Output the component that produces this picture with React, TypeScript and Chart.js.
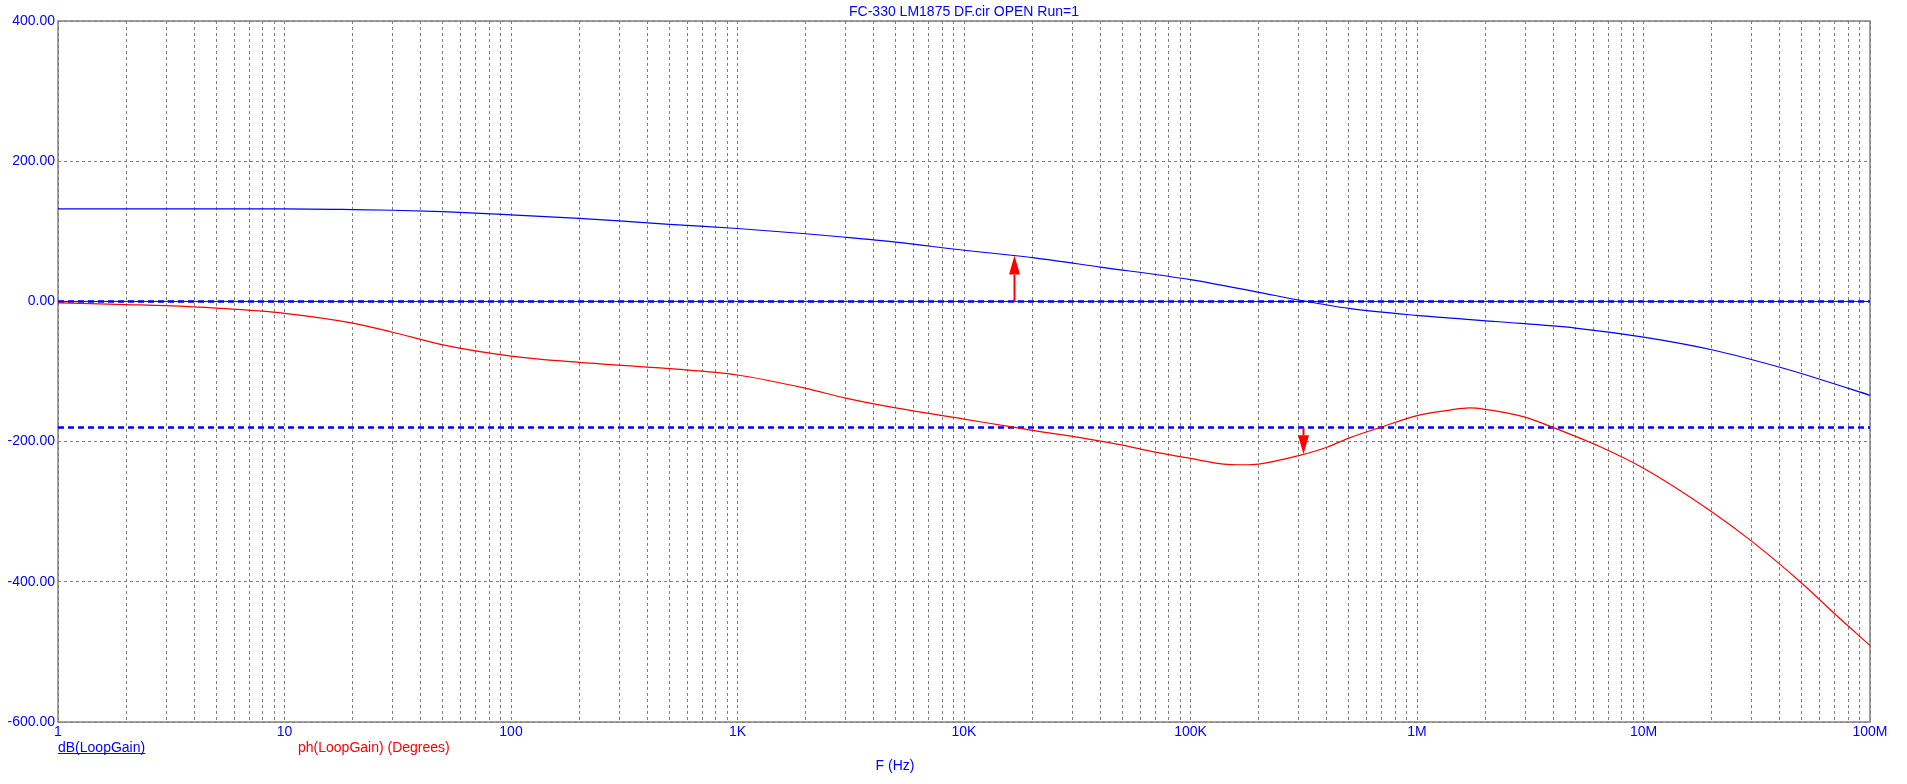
import React, { useEffect, useRef } from "react";
import { Chart, registerables } from "chart.js";

Chart.register(...registerables);

const TITLE = "FC-330 LM1875 DF.cir OPEN Run=1";
const X_TITLE = "F (Hz)";
const SERIES_GAIN_LABEL = "dB(LoopGain)";
const SERIES_PHASE_LABEL = "ph(LoopGain) (Degrees)";

const GAIN_FREQ_HZ = [
  1, 10, 20, 30, 50, 100, 200, 300, 500, 1e3, 2e3, 3e3, 5e3, 1e4, 1.66e4, 2e4, 4e4,
  1e5, 2e5, 3e5, 5e5, 1e6, 2.3e6, 5e6, 1e7, 2e7, 4e7, 6e7, 1e8,
];
const GAIN_DB = [
  132, 132, 131, 130, 128, 123.5, 118.5, 115, 110, 104, 96.5, 91.5, 84.5, 73, 65.5, 62.5, 49,
  31, 13, 2, -10, -20, -29, -38, -51, -69, -94, -111, -134,
];

const PHASE_FREQ_HZ = [
  1, 2, 3, 5, 10, 20, 30, 50, 100, 200, 300, 500, 1e3, 2e3, 3e3, 5e3, 1e4, 1.7e4, 2e4, 3.5e4, 5e4, 7e4,
  1e5, 1.4e5, 1.7e5, 2e5, 3e5, 4e5, 5e5, 7e5, 1e6, 1.4e6, 1.7e6, 2e6, 3e6, 4e6, 6.4e6, 1e7, 2e7, 3e7, 5e7, 7e7, 1e8,
];
const PHASE_DEG = [
  -2, -4.5, -6, -9.5, -17, -31, -44, -62, -78, -87, -91, -96, -105, -124, -138, -152, -168, -180, -184, -196, -205, -215,
  -224, -232, -233, -232, -220, -208, -195, -179, -163, -155, -152, -154, -165, -180, -207, -238, -300, -342, -402, -446, -491,
];

const Y_MIN = -600;
const Y_MAX = 400;
const Y_STEP = 200;
const X_MIN = 1;
const X_MAX = 1e8;
const X_DECADE_LABELS = ["1", "10", "100", "1K", "10K", "100K", "1M", "10M", "100M"];
const REF_LEVELS = [0, -180];
const MARKERS = [
  { freq: 1.66e4, from: 0, to: 65.5 },
  { freq: 3.14e5, from: -180, to: -218 },
];

const FONT = '14px "Liberation Sans", Arial, sans-serif';
const BLUE = "#0000ff";
const RED = "#ff0000";
const GRAY = "#808080";

export default function App() {
  const ref = useRef<HTMLCanvasElement | null>(null);

  useEffect(() => {
    const canvas = ref.current;
    if (!canvas) return;

    const gridTicks: number[] = [];
    for (let d = 0; d < X_DECADE_LABELS.length - 1; d++) {
      for (let m = 1; m <= 9; m++) gridTicks.push(m * Math.pow(10, d));
    }
    gridTicks.push(X_MAX);

    const gain = GAIN_FREQ_HZ.map((f, i) => ({ x: f, y: GAIN_DB[i] }));
    const phase = PHASE_FREQ_HZ.map((f, i) => ({ x: f, y: PHASE_DEG[i] }));

    const refSets: any[] = [];
    REF_LEVELS.forEach((lv, i) => {
      if (i === 0) {
        refSets.push({
          data: [{ x: X_MIN, y: lv }, { x: X_MAX, y: lv }],
          borderColor: BLUE,
          borderWidth: 1,
          pointRadius: 0,
        });
      }
      refSets.push({
        data: [{ x: X_MIN, y: lv }, { x: X_MAX, y: lv }],
        borderColor: BLUE,
        borderWidth: 2.5,
        borderDash: [6, 4],
        pointRadius: 0,
      });
    });

    const overlay = {
      id: "overlay",
      beforeDatasetsDraw(chart: any) {
        const { ctx, chartArea } = chart;
        ctx.save();
        ctx.strokeStyle = GRAY;
        ctx.lineWidth = 1.5;
        ctx.setLineDash([]);
        ctx.strokeRect(chartArea.left, chartArea.top, chartArea.right - chartArea.left, chartArea.bottom - chartArea.top);
        ctx.restore();
      },
      afterDatasetsDraw(chart: any) {
        const { ctx, chartArea, scales } = chart;
        const xs = scales.x;
        const ys = scales.y;
        ctx.save();
        ctx.fillStyle = RED;
        ctx.strokeStyle = RED;
        MARKERS.forEach((m) => {
          const x = Math.round(xs.getPixelForValue(m.freq)) + 0.5;
          const y0 = ys.getPixelForValue(m.from);
          const y1 = ys.getPixelForValue(m.to);
          const dir = y1 < y0 ? -1 : 1;
          const headLen = 19;
          const headW = 5.5;
          const base = y1 - dir * headLen;
          ctx.lineWidth = 2;
          ctx.beginPath();
          ctx.moveTo(x, y0);
          ctx.lineTo(x, base);
          ctx.stroke();
          ctx.beginPath();
          ctx.moveTo(x, y1);
          ctx.lineTo(x - headW, base);
          ctx.lineTo(x + headW, base);
          ctx.closePath();
          ctx.fill();
        });

        ctx.font = FONT;
        ctx.fillStyle = BLUE;
        ctx.textAlign = "center";
        ctx.textBaseline = "middle";
        ctx.fillText(TITLE, (chartArea.left + chartArea.right) / 2, 12);

        ctx.textAlign = "left";
        ctx.textBaseline = "alphabetic";
        ctx.fillText(SERIES_GAIN_LABEL, chartArea.left, 752);
        const w = ctx.measureText(SERIES_GAIN_LABEL).width;
        ctx.strokeStyle = BLUE;
        ctx.lineWidth = 1;
        ctx.beginPath();
        ctx.moveTo(chartArea.left, 753.5);
        ctx.lineTo(chartArea.left + w, 753.5);
        ctx.stroke();

        ctx.fillStyle = RED;
        ctx.fillText(SERIES_PHASE_LABEL, 298, 752);

        ctx.fillStyle = BLUE;
        ctx.textAlign = "center";
        ctx.fillText(X_TITLE, 895, 770);
        ctx.restore();
      },
    };

    const chart = new Chart(canvas, {
      type: "line",
      data: {
        datasets: [
          {
            data: phase,
            borderColor: RED,
            borderWidth: 1.2,
            pointRadius: 0,
            cubicInterpolationMode: "monotone",
          } as any,
          {
            data: gain,
            borderColor: BLUE,
            borderWidth: 1.2,
            pointRadius: 0,
            cubicInterpolationMode: "monotone",
          } as any,
          ...refSets,
        ],
      },
      options: {
        animation: false,
        responsive: false,
        devicePixelRatio: 1,
        parsing: false as any,
        normalized: true,
        layout: { padding: { left: 0, top: 21, right: 37, bottom: 0 } },
        plugins: {
          legend: { display: false },
          title: { display: false },
          tooltip: { enabled: false },
        },
        scales: {
          x: {
            type: "logarithmic",
            min: X_MIN,
            max: X_MAX,
            afterFit: (s: any) => {
              s.height = 62;
            },
            afterBuildTicks: (s: any) => {
              s.ticks = gridTicks.map((v) => ({ value: v }));
            },
            grid: {
              color: GRAY,
              lineWidth: 1,
              drawTicks: false,
            },
            border: { display: false, dash: [3, 3] },
            ticks: {
              autoSkip: false,
              maxRotation: 0,
              minRotation: 0,
              padding: 2,
              color: BLUE,
              font: { family: '"Liberation Sans", Arial, sans-serif', size: 14 },
              callback: (v: any) => {
                const lg = Math.log10(Number(v));
                const r = Math.round(lg);
                if (Math.abs(lg - r) < 1e-9 && r >= 0 && r < X_DECADE_LABELS.length) return X_DECADE_LABELS[r];
                return "";
              },
            },
          },
          y: {
            type: "linear",
            min: Y_MIN,
            max: Y_MAX,
            afterFit: (s: any) => {
              s.width = 58;
            },
            grid: {
              color: GRAY,
              lineWidth: 1,
              drawTicks: false,
            },
            border: { display: false, dash: [3, 3] },
            ticks: {
              stepSize: Y_STEP,
              padding: 3,
              color: BLUE,
              font: { family: '"Liberation Sans", Arial, sans-serif', size: 14 },
              callback: (v: any) => Number(v).toFixed(2),
            },
          },
        },
      },
      plugins: [overlay],
    });

    return () => {
      chart.destroy();
    };
  }, []);

  return (
    <div style={{ position: "fixed", left: 0, top: 0, width: 1907, height: 784, background: "#fff" }}>
      <canvas ref={ref} width={1907} height={784} style={{ width: 1907, height: 784, display: "block" }} />
    </div>
  );
}
